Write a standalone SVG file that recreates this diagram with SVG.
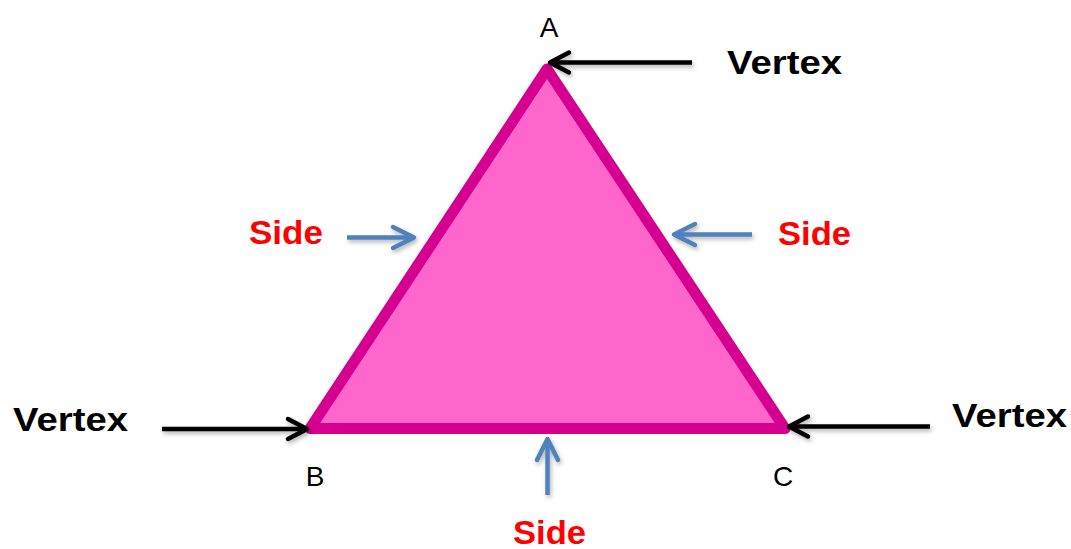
<svg xmlns="http://www.w3.org/2000/svg" width="1071" height="549" viewBox="0 0 1071 549">
  <defs>
    <filter id="sh" x="-20%" y="-50%" width="140%" height="200%">
      <feDropShadow dx="1.5" dy="2.5" stdDeviation="2" flood-color="#000" flood-opacity="0.3"/>
    </filter>
    <marker id="hk" markerUnits="userSpaceOnUse" markerWidth="30" markerHeight="30" refX="0" refY="0" orient="auto" overflow="visible">
      <path d="M-19,-10 L0,0 L-19,10" fill="none" stroke="#000" stroke-width="4.5" stroke-linecap="round" stroke-linejoin="round"/>
    </marker>
    <marker id="hb" markerUnits="userSpaceOnUse" markerWidth="30" markerHeight="30" refX="0" refY="0" orient="auto" overflow="visible">
      <path d="M-21,-10.5 L0,0 L-21,10.5" fill="none" stroke="#4F81BD" stroke-width="4.5" stroke-linecap="round" stroke-linejoin="round"/>
    </marker>
  </defs>
  <style>
    .vx { font-family: "Liberation Sans", Arial, sans-serif; font-weight: bold; font-size: 34px; fill: #000; }
    .sd { font-family: "Liberation Sans", Arial, sans-serif; font-weight: bold; font-size: 34px; fill: #FF0000; }
    .lb { font-family: "Liberation Sans", Arial, sans-serif; font-size: 28px; fill: #000; text-anchor: middle; }
    .ka { fill: none; stroke: #000; stroke-width: 4.5; marker-end: url(#hk); }
    .ba { fill: none; stroke: #4F81BD; stroke-width: 4.5; marker-end: url(#hb); }
  </style>
  <rect width="1071" height="549" fill="#FFFFFF"/>

  <g id="triangle">
    <polygon points="547,69 310,428.5 785,428.5" fill="#FF66CC" stroke="#D5008F" stroke-width="11" stroke-linejoin="round"/>
  </g>

  <g id="label-A"><text class="lb" x="549" y="37" font-size="25">A</text></g>
  <g id="label-B"><text class="lb" x="315" y="486">B</text></g>
  <g id="label-C"><text class="lb" x="783" y="486">C</text></g>

  <g id="vertex-top"><text class="vx" x="727" y="74" textLength="115" lengthAdjust="spacingAndGlyphs">Vertex</text></g>
  <g id="vertex-left"><text class="vx" x="13" y="431" textLength="115" lengthAdjust="spacingAndGlyphs">Vertex</text></g>
  <g id="vertex-right"><text class="vx" x="952" y="427" textLength="115" lengthAdjust="spacingAndGlyphs">Vertex</text></g>

  <g id="side-left"><text class="sd" x="249" y="244" textLength="74" lengthAdjust="spacingAndGlyphs">Side</text></g>
  <g id="side-right"><text class="sd" x="778" y="245" textLength="73" lengthAdjust="spacingAndGlyphs">Side</text></g>
  <g id="side-bottom"><text class="sd" x="513" y="544" textLength="73" lengthAdjust="spacingAndGlyphs">Side</text></g>

  <g id="connectors" filter="url(#sh)">
    <path class="ka" d="M692,62.5 L550,62.5"/>
    <path class="ka" d="M162,429 L307,429"/>
    <path class="ka" d="M930,426.5 L789,426.5"/>
    <path class="ba" d="M347,237.5 L414,237.5"/>
    <path class="ba" d="M752,234.5 L674,234.5"/>
    <path class="ba" d="M547.5,495 L547.5,439"/>
  </g>
</svg>
